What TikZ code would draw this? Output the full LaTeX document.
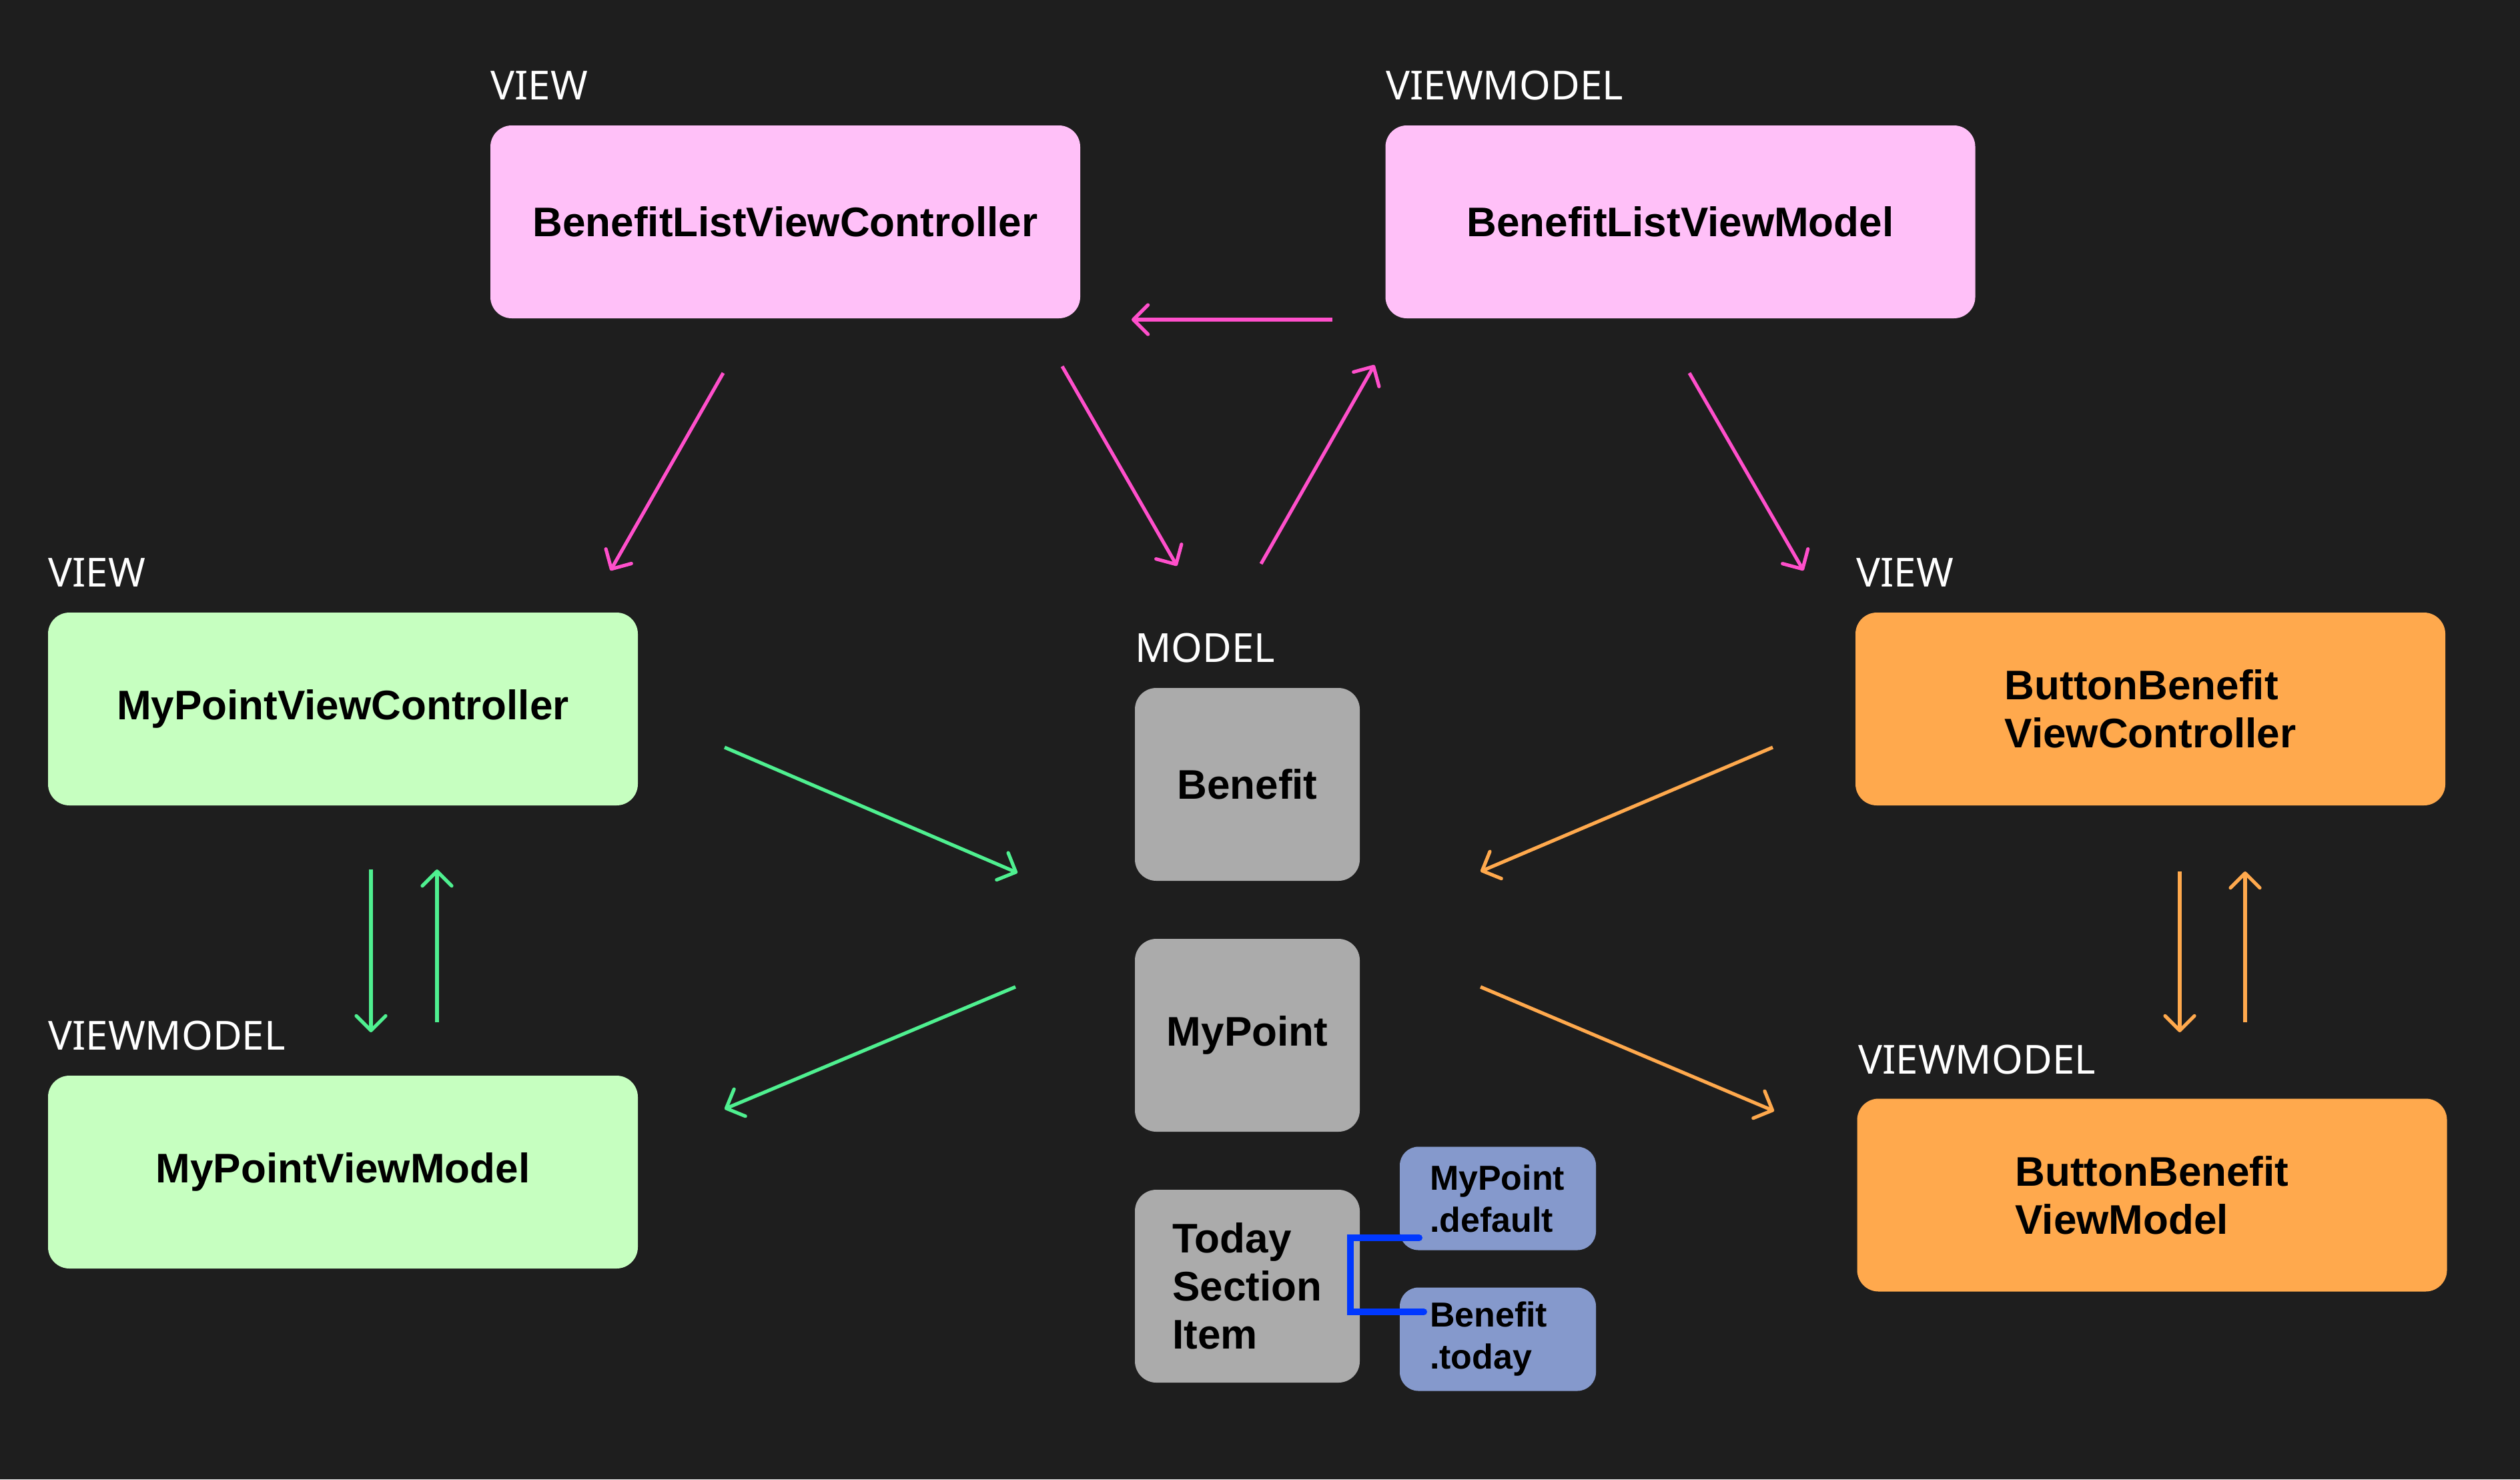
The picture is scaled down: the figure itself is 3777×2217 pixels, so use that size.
\documentclass[tikz,border=0pt]{standalone}
\usepackage{fontspec}
\setmainfont{Liberation Sans}
\newfontfamily\labelfont{Noto Sans}
\usetikzlibrary{arrows.meta}
\definecolor{bg}{HTML}{1E1E1E}
\definecolor{pinkbox}{HTML}{FFC0F8}
\definecolor{pinkarr}{HTML}{FF4FCB}
\definecolor{greenbox}{HTML}{C6FFC0}
\definecolor{greenarr}{HTML}{4FF090}
\definecolor{orangebox}{HTML}{FFA94D}
\definecolor{orangearr}{HTML}{FFA94D}
\definecolor{graybox}{HTML}{ABABAB}
\definecolor{bluebox}{HTML}{8599CC}
\definecolor{blueline}{HTML}{0038FF}
\begin{document}
\begin{tikzpicture}[x=0.5pt,y=-0.5pt,
  box/.style={rounded corners=16pt, inner sep=0pt, align=left, text=black,
    font=\bfseries\fontsize{31}{36}\selectfont},
  bigbox/.style={box, minimum width=442pt, minimum height=144.5pt},
  graynode/.style={box, fill=graybox, minimum width=168.5pt, minimum height=144.5pt},
  smallbox/.style={box, fill=bluebox, rounded corners=14pt, minimum width=147pt, minimum height=77.5pt,
    text width=102pt, inner xsep=22.5pt, inner ysep=0pt,
    font=\bfseries\fontsize{26}{31.5}\selectfont},
  lbl/.style={anchor=base west, inner sep=0pt, text=white, font=\labelfont\fontsize{30}{36}\selectfont},
  arr/.style={line width=2.6pt, -{Straight Barb[length=11pt,width=22pt,round]}},
  parr/.style={arr, draw=pinkarr},
  garr/.style={arr, draw=greenarr},
  oarr/.style={arr, draw=orangearr}
]
\fill[bg] (0,0) rectangle (3777,2217);
\useasboundingbox (0,0) rectangle (3777,2217);

% boxes
\node[bigbox, fill=pinkbox] (blvc) at (1177,332.5) {BenefitListViewController};
\node[bigbox, fill=pinkbox] (blvm) at (2518.5,332.5) {BenefitListViewModel};
\node[bigbox, fill=greenbox] (mpvc) at (514,1062.5) {MyPointViewController};
\node[bigbox, fill=greenbox] (mpvm) at (514,1756.5) {MyPointViewModel};
\node[bigbox, fill=orangebox] (bbvc) at (3223,1062.5) {ButtonBenefit\\ViewController};
\node[bigbox, fill=orangebox] (bbvm) at (3225.5,1791) {ButtonBenefit\\ViewModel};
\node[graynode] (benefit) at (1869.5,1175.5) {Benefit};
\node[graynode] (mypoint) at (1869.5,1551.5) {MyPoint};
\node[graynode] (today) at (1869.5,1927.5) {Today\\Section\\Item};
\node[smallbox] (mpdef) at (2245,1796) {MyPoint\\.default};
\node[smallbox] (bentoday) at (2245,2007) {Benefit\\.today};

% labels
\node[lbl] (l1) at (735,149) {VIEW};
\node[lbl] (l2) at (2077,149) {VIEWMODEL};
\node[lbl] (l3) at (72,879) {VIEW};
\node[lbl] (l4) at (72,1573) {VIEWMODEL};
\node[lbl] (l5) at (1701,992) {MODEL};
\node[lbl] (l6) at (2782,879) {VIEW};
\node[lbl] (l7) at (2785,1609) {VIEWMODEL};

% arrow end points
\coordinate (a1s) at (1997,479); \coordinate (a1e) at (1696,479);
\coordinate (a2s) at (1084,559); \coordinate (a2e) at (915,855);
\coordinate (a3s) at (1592,549); \coordinate (a3e) at (1764,848);
\coordinate (a4s) at (1890,845); \coordinate (a4e) at (2060,547);
\coordinate (a5s) at (2532,559); \coordinate (a5e) at (2703,855);
\coordinate (a6s) at (556,1303); \coordinate (a6e) at (556,1547);
\coordinate (a7s) at (655,1532); \coordinate (a7e) at (655,1303);
\coordinate (a8s) at (1086,1120); \coordinate (a8e) at (1525,1308);
\coordinate (a9s) at (1522,1479); \coordinate (a9e) at (1086,1662);
\coordinate (a10s) at (3267,1306); \coordinate (a10e) at (3267,1547);
\coordinate (a11s) at (3365,1532); \coordinate (a11e) at (3365,1306);
\coordinate (a12s) at (2657,1120); \coordinate (a12e) at (2219,1306);
\coordinate (a13s) at (2219,1479); \coordinate (a13e) at (2659,1665);

\draw[parr] (a1s) -- (a1e);
\draw[parr] (a2s) -- (a2e);
\draw[parr] (a3s) -- (a3e);
\draw[parr] (a4s) -- (a4e);
\draw[parr] (a5s) -- (a5e);
\draw[garr] (a6s) -- (a6e);
\draw[garr] (a7s) -- (a7e);
\draw[garr] (a8s) -- (a8e);
\draw[garr] (a9s) -- (a9e);
\draw[oarr] (a10s) -- (a10e);
\draw[oarr] (a11s) -- (a11e);
\draw[oarr] (a12s) -- (a12e);
\draw[oarr] (a13s) -- (a13e);

% blue bracket
\coordinate (bj) at (2024,1855);
\draw[blueline, line width=5pt, line cap=round, line join=miter]
  (2127,1855) -- (bj) -- (2024,1966) -- (2134,1966);
\end{tikzpicture}
\end{document}
